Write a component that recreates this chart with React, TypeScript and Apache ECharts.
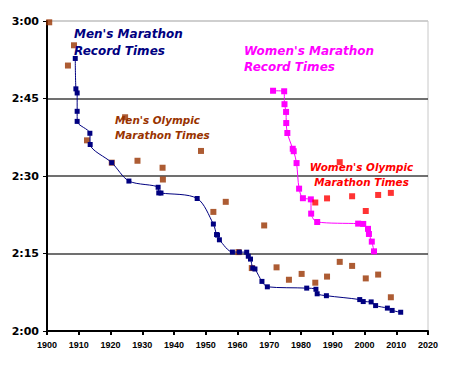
import React, { useEffect, useRef } from "react";
import * as echarts from "echarts";

// Times in minutes, x in (fractional) years
const menRecordYears = [1908.9, 1909.1, 1909.5, 1909.5, 1909.5, 1913.5, 1913.6, 1920.4, 1925.8, 1935.0, 1935.2, 1935.9, 1947.3, 1952.4, 1953.4, 1953.7, 1954.3, 1958.4, 1960.6, 1962.9, 1963.4, 1964.1, 1964.8, 1965.5, 1967.7, 1969.4, 1981.8, 1984.7, 1985.1, 1988.0, 1998.5, 1999.6, 2002.1, 2003.5, 2007.2, 2008.7, 2011.4];
const menRecordTimes = [172.75, 166.87, 166.07, 162.52, 160.57, 158.27, 156.1, 152.58, 149.02, 147.82, 146.73, 146.7, 145.65, 140.7, 138.67, 138.57, 137.65, 135.28, 135.27, 135.25, 134.47, 133.92, 132.18, 132.0, 129.6, 128.55, 128.3, 128.08, 127.2, 126.83, 126.08, 125.7, 125.63, 124.92, 124.43, 123.98, 123.63];

const menOlympicYears = [1900.7, 1906.6, 1908.5, 1912.6, 1920.4, 1924.6, 1928.5, 1936.4, 1936.5, 1948.5, 1952.4, 1956.3, 1960.3, 1964.5, 1968.4, 1972.3, 1976.2, 1980.2, 1984.5, 1988.2, 1992.2, 1996.1, 2000.4, 2004.3, 2008.3];
const menOlympicTimes = [179.75, 171.38, 175.3, 156.9, 152.58, 161.37, 152.95, 151.6, 149.32, 154.85, 143.05, 145.0, 135.27, 132.18, 140.43, 132.32, 129.92, 131.05, 129.35, 130.53, 133.38, 132.6, 130.18, 130.92, 126.53];

const womenRecordYears = [1971.2, 1974.7, 1974.8, 1975.3, 1975.35, 1975.7, 1977.4, 1977.7, 1978.6, 1979.4, 1980.6, 1983.1, 1983.2, 1985.1, 1998.0, 1999.6, 2001.1, 2001.4, 2002.3, 2003.0];
const womenRecordTimes = [166.5, 166.4, 163.9, 162.4, 160.25, 158.32, 155.27, 154.8, 152.5, 147.55, 145.7, 145.48, 142.72, 141.1, 140.78, 140.72, 139.77, 138.78, 137.3, 135.42];

const womenOlympicYears = [1984.5, 1988.2, 1992.2, 1996.1, 2000.4, 2004.3, 2008.3];
const womenOlympicTimes = [144.87, 145.67, 152.68, 146.08, 143.23, 146.33, 146.73];

const xTicks = { min: 1900, max: 2020, interval: 10 };
const yTicks = { min: 120, max: 180, interval: 15 };

const zip = (xs: number[], ys: number[]) => xs.map((x, i) => [x, ys[i]]);
const fmtTime = (v: number) => `${Math.floor(v / 60)}:${String(Math.round(v % 60)).padStart(2, "0")}`;

const NAVY = "#000080";
const BROWN = "#993300";
const MAGENTA = "#FF00FF";
const RED = "#FF0000";

const titleFont = "'DejaVu Sans', sans-serif";

export default function App() {
  const ref = useRef<HTMLDivElement>(null);
  useEffect(() => {
    if (!ref.current) return;
    const chart = echarts.init(ref.current, undefined, { renderer: "svg" });
    const txt = (x: number, y: number, text: string, color: string, size: number, align = "left") => ({
      type: "text",
      x,
      y,
      style: {
        text,
        fill: color,
        font: `italic bold ${size}px ${titleFont}`,
        textVerticalAlign: "middle",
        textAlign: align,
      },
      z: 100,
    });
    chart.setOption({
      animation: false,
      backgroundColor: "#fff",
      grid: {
        left: 47,
        right: 22,
        top: 21,
        bottom: 34,
        show: true,
        borderColor: "#c8c8c8",
        borderWidth: 1,
      },
      xAxis: {
        type: "value",
        min: xTicks.min,
        max: xTicks.max,
        interval: xTicks.interval,
        axisLine: { lineStyle: { color: "#000", width: 2 } },
        axisTick: { show: true, length: 4, lineStyle: { color: "#000", width: 2 } },
        axisLabel: {
          color: "#000",
          fontFamily: "'Liberation Sans', Arial, sans-serif",
          fontWeight: "bold",
          fontSize: 9,
          margin: 9,
          formatter: (v: number) => String(v),
        },
        splitLine: { show: false },
      },
      yAxis: {
        type: "value",
        min: yTicks.min,
        max: yTicks.max,
        interval: yTicks.interval,
        axisLine: { show: true, lineStyle: { color: "#000", width: 2 } },
        axisTick: { show: true, length: 4, lineStyle: { color: "#000", width: 1 } },
        axisLabel: {
          color: "#000",
          fontFamily: "'DejaVu Sans', sans-serif",
          fontWeight: "bold",
          fontSize: 11,
          margin: 8,
          formatter: (v: number) => fmtTime(v),
        },
        splitLine: {
          show: true,
          lineStyle: { color: ["#000", "#404040", "#404040", "#404040", "#c8c8c8"], width: 1.5 },
        },
      },
      series: [
        {
          name: "Men's Marathon Record Times",
          type: "line",
          data: zip(menRecordYears, menRecordTimes),
          smooth: 0.3,
          symbol: "rect",
          symbolSize: 5,
          lineStyle: { color: NAVY, width: 1 },
          itemStyle: { color: NAVY },
          z: 3,
        },
        {
          name: "Men's Olympic Marathon Times",
          type: "scatter",
          data: zip(menOlympicYears, menOlympicTimes),
          symbol: "rect",
          symbolSize: 6,
          itemStyle: { color: BROWN },
          z: 2,
        },
        {
          name: "Women's Marathon Record Times",
          type: "line",
          data: zip(womenRecordYears, womenRecordTimes),
          smooth: 0.3,
          symbol: "rect",
          symbolSize: 6,
          lineStyle: { color: MAGENTA, width: 1 },
          itemStyle: { color: MAGENTA },
          z: 3,
        },
        {
          name: "Women's Olympic Marathon Times",
          type: "scatter",
          data: zip(womenOlympicYears, womenOlympicTimes),
          symbol: "rect",
          symbolSize: 6,
          itemStyle: { color: RED },
          z: 4,
        },
      ],
      graphic: [
        txt(74, 34, "Men's Marathon", NAVY, 12),
        txt(74, 50.5, "Record Times", NAVY, 12),
        txt(244, 50.5, "Women's Marathon", MAGENTA, 12),
        txt(244, 66.5, "Record Times", MAGENTA, 12),
        txt(115, 120, "Men's Olympic", BROWN, 10.4),
        txt(115, 134.5, "Marathon Times", BROWN, 10.4),
        txt(361.5, 166.7, "Women's Olympic", RED, 10.4, "center"),
        txt(361.5, 181.7, "Marathon Times", RED, 10.4, "center"),
      ],
    });
    return () => chart.dispose();
  }, []);
  return <div ref={ref} style={{ width: 450, height: 365, margin: -8 }} />;
}
